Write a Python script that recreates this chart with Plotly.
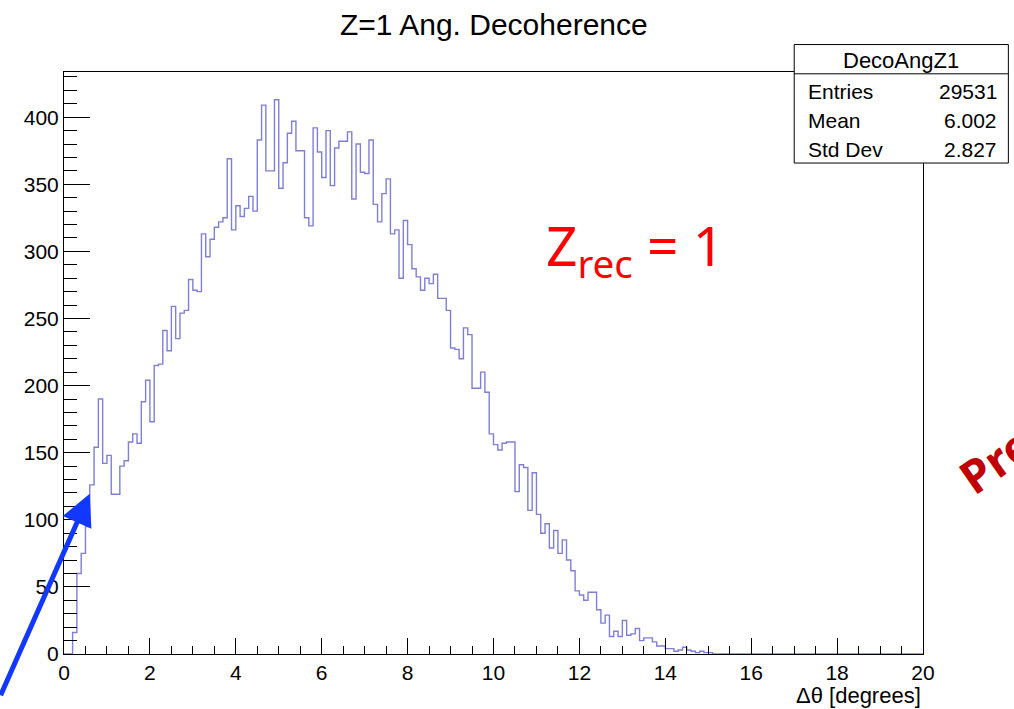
import numpy as np
import plotly.graph_objects as go

# ---------------- data ----------------
bin_width = 0.1
x_min, x_max = 0.0, 20.0
# counts per 0.1-degree bin, 0.0 .. 20.0 (200 bins)
counts = [
    0, 0, 16, 60, 75, 95, 126, 154, 190, 142,          # 0.0 - 1.0
    148, 119, 119, 140, 144, 158, 164, 157, 188, 204,  # 1.0 - 2.0
    173, 215, 216, 241, 226, 259, 235, 254, 256, 279,  # 2.0 - 3.0
    271, 270, 313, 296, 309, 318, 322, 325, 369, 316,  # 3.0 - 4.0
    334, 326, 332, 341, 330, 383, 409, 360, 360, 413,  # 4.0 - 5.0
    347, 366, 388, 397, 375, 375, 325, 319, 392, 374,  # 5.0 - 6.0
    355, 390, 349, 377, 382, 382, 389, 339, 380, 359,  # 6.0 - 7.0
    358, 383, 335, 322, 343, 354, 313, 316, 280, 323,  # 7.0 - 8.0
    305, 287, 281, 271, 280, 276, 283, 265, 265, 256,  # 8.0 - 9.0
    228, 227, 220, 243, 238, 198, 198, 210, 195, 164,  # 9.0 - 10.0
    156, 152, 157, 158, 158, 121, 141, 139, 107, 135,  # 10.0 - 11.0
    104, 90, 97, 79, 92, 75, 85, 70, 62, 47,           # 11.0 - 12.0
    44, 40, 46, 46, 33, 23, 29, 13, 17, 13,            # 12.0 - 13.0
    25, 14, 15, 19, 10, 12, 12, 9, 6, 6,               # 13.0 - 14.0
    4, 4, 2, 3, 5, 3, 2, 1, 2, 1,                      # 14.0 - 15.0
    1, 0, 0, 0, 0, 0, 0, 0, 0, 0,                      # 15.0 - 16.0
] + [0] * 40                                           # 16.0 - 20.0

x_ticks = [0, 2, 4, 6, 8, 10, 12, 14, 16, 18, 20]
y_ticks = [0, 50, 100, 150, 200, 250, 300, 350, 400]

title_text = "Z=1 Ang. Decoherence"
x_title = "Δθ [degrees]"
stats_name = "DecoAngZ1"
stats_rows = [("Entries", "29531"), ("Mean", "6.002"), ("Std Dev", "2.827")]

# ---------------- layout geometry ----------------
W, H = 1014, 709
L, R, T, B = 64.3, 922.7, 71.5, 654.5   # frame in pixels
PW, PH = R - L, B - T


def px(x):
    return (x - L) / PW


def py(y):
    return (B - y) / PH


edges = x_min + bin_width * np.arange(len(counts) + 1)
ystep = list(counts) + [counts[-1]]
y_top = 1.05 * max(counts)

FONT = "Liberation Sans, Arial, Helvetica, sans-serif"

fig = go.Figure()
fig.add_trace(go.Scatter(
    x=edges, y=ystep, mode="lines", line_shape="hv",
    line=dict(color="#7f7fd8", width=1.4), hoverinfo="skip", showlegend=False,
))

fig.update_layout(
    width=W, height=H,
    margin=dict(l=L, r=W - R, t=T, b=H - B, pad=0),
    plot_bgcolor="white", paper_bgcolor="white",
    font=dict(family=FONT, color="black", size=21),
    showlegend=False,
)
fig.update_xaxes(
    range=[x_min, x_max], tickmode="array", tickvals=x_ticks,
    ticktext=[str(v) for v in x_ticks],
    ticks="inside", ticklen=16, tickwidth=1, tickcolor="black",
    minor=dict(dtick=0.5, ticklen=8, ticks="inside", tickcolor="black", tickwidth=1, showgrid=False),
    showline=True, mirror=True, linecolor="black", linewidth=1,
    showgrid=False, zeroline=False, tickfont=dict(size=21),
)
fig.update_yaxes(
    range=[0, y_top], tickmode="array", tickvals=y_ticks,
    ticktext=[str(v) for v in y_ticks],
    ticks="inside", ticklen=26, tickwidth=1, tickcolor="black",
    minor=dict(dtick=10, ticklen=13, ticks="inside", tickcolor="black", tickwidth=1, showgrid=False),
    showline=True, mirror=True, linecolor="black", linewidth=1,
    showgrid=False, zeroline=False, tickfont=dict(size=21),
)

ann = []
# title
ann.append(dict(text=title_text, x=0.5, y=py(24), xref="paper", yref="paper",
                xanchor="center", yanchor="middle", showarrow=False,
                font=dict(size=30, family=FONT, color="black")))
# x axis title (right-aligned like ROOT)
ann.append(dict(text=x_title, x=1.0, y=py(696), xref="paper", yref="paper",
                xanchor="right", yanchor="middle", showarrow=False,
                font=dict(size=22, family=FONT, color="black")))

# stats box
bx0, bx1, by0, by1, bdiv = 794, 1008, 44, 162.7, 73.3
shapes = [
    dict(type="rect", xref="paper", yref="paper", x0=px(bx0), x1=px(bx1),
         y0=py(by1), y1=py(by0), fillcolor="white",
         line=dict(color="black", width=1), layer="above"),
    dict(type="line", xref="paper", yref="paper", x0=px(bx0), x1=px(bx1),
         y0=py(bdiv), y1=py(bdiv), line=dict(color="black", width=1), layer="above"),
]
ann.append(dict(text=stats_name, x=px((bx0 + bx1) / 2), y=py(60), xref="paper", yref="paper",
                xanchor="center", yanchor="middle", showarrow=False,
                font=dict(size=22, family=FONT, color="black")))
row_y = [91, 120, 149]
for (lab, val), yy in zip(stats_rows, row_y):
    ann.append(dict(text=lab, x=px(806), y=py(yy), xref="paper", yref="paper",
                    xanchor="left", yanchor="middle", showarrow=False,
                    font=dict(size=21, family=FONT, color="black")))
    ann.append(dict(text=val, x=px(999), y=py(yy), xref="paper", yref="paper",
                    xanchor="right", yanchor="middle", showarrow=False,
                    font=dict(size=21, family=FONT, color="black")))

# red label Z_rec = 1
ann.append(dict(text="Z<sub>rec</sub> = 1", x=px(544), y=py(248), xref="paper", yref="paper",
                xanchor="left", yanchor="middle", showarrow=False,
                font=dict(size=55, family="Noto Sans, Open Sans, sans-serif", color="#ff0000")))

# rotated, clipped "Preliminary" (cut by the right edge, as in the source)
ann.append(dict(text="<b>Preliminary</b>", x=px(1073), y=py(405), xref="paper", yref="paper",
                xanchor="center", yanchor="middle", showarrow=False, textangle=-35,
                font=dict(size=46, family="Noto Sans, Open Sans, sans-serif", color="#c00000")))

# blue arrow
tip_x, tip_y = 90, 494
tail_x, tail_y = -4, 697
ann.append(dict(text="", x=px(tip_x), y=py(tip_y), xref="paper", yref="paper",
                showarrow=True, ax=tail_x - tip_x, ay=tail_y - tip_y,
                axref="pixel", ayref="pixel", arrowhead=2, arrowsize=1.25,
                arrowwidth=5, arrowcolor="#1238ff", standoff=0))

fig.update_layout(annotations=ann, shapes=shapes)
fig.write_html("out.html")
